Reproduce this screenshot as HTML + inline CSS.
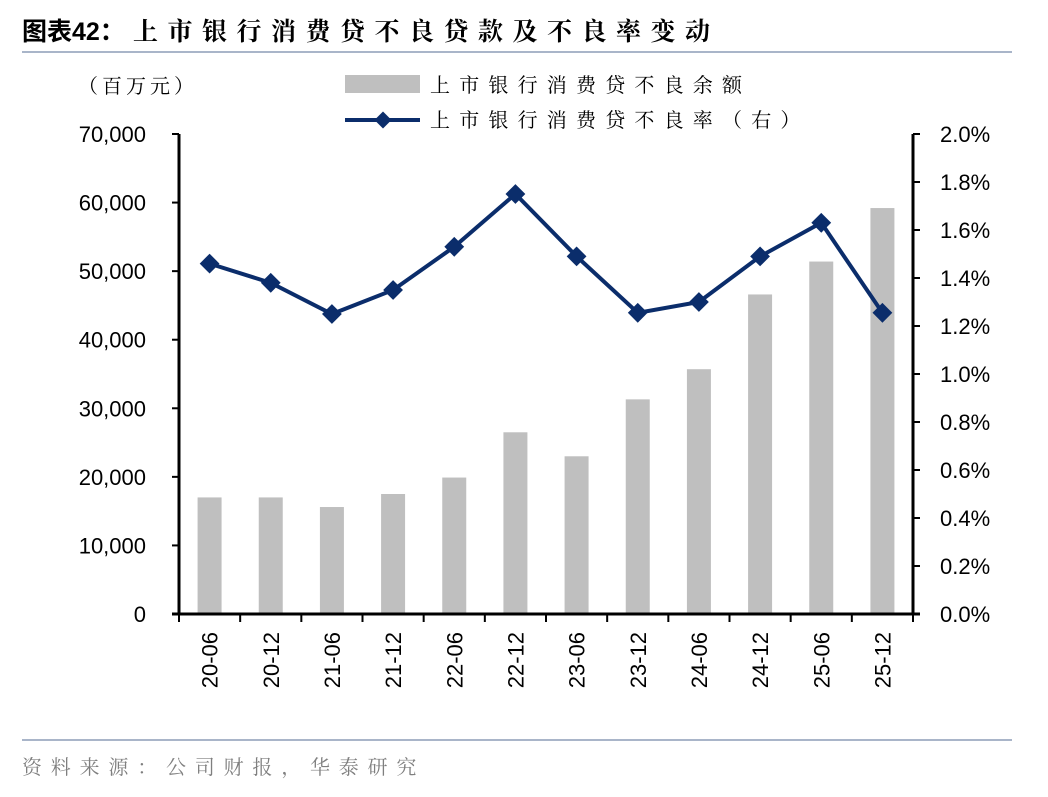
<!DOCTYPE html>
<html><head><meta charset="utf-8"><style>
body{margin:0;background:#fff;}
svg text{font-family:"Liberation Sans","Noto Sans CJK SC",sans-serif;}
svg text.cjk{font-family:"Liberation Serif","Noto Serif CJK SC",serif;}
</style></head><body>
<svg width="1048" height="792" xmlns="http://www.w3.org/2000/svg">
<text x="22" y="40" font-size="25" font-weight="bold" fill="#000"><tspan>图表42：</tspan><tspan x="133" letter-spacing="9.5" style="font-family:'Liberation Serif','Noto Serif CJK SC',serif">上市银行消费贷不良贷款及不良率变动</tspan></text>
<line x1="22" y1="52" x2="1012" y2="52" stroke="#a9b5c9" stroke-width="2"/>
<text class="cjk" x="78" y="93" font-size="20" letter-spacing="4" fill="#000">（百万元）</text>
<rect x="345" y="75" width="75" height="18" fill="#bfbfbf"/>
<text class="cjk" x="430" y="92" font-size="20" letter-spacing="9.2">上市银行消费贷不良余额</text>
<line x1="345" y1="120" x2="420" y2="120" stroke="#0b2d6b" stroke-width="4"/>
<rect x="377" y="114" width="12" height="12" fill="#0b2d6b" transform="rotate(45 383 120)"/>
<text class="cjk" x="430" y="127" font-size="20" letter-spacing="9.2">上市银行消费贷不良率（右）</text>
<g id="plot"></g>
<line x1="22" y1="740" x2="1012" y2="740" stroke="#a9b5c9" stroke-width="2"/>
<text class="cjk" x="22" y="774" font-size="20" letter-spacing="8.8" fill="#7f7f7f">资料来源：公司财报，华泰研究</text>
</svg>
<script>
const categories=["20-06","20-12","21-06","21-12","22-06","22-12","23-06","23-12","24-06","24-12","25-06","25-12"];
const balances=[17000,17000,15600,17500,19900,26500,23000,31300,35700,46600,51400,59200];
const rates=[1.46,1.38,1.25,1.35,1.53,1.75,1.49,1.255,1.30,1.49,1.63,1.255];
const leftTicks=["0","10,000","20,000","30,000","40,000","50,000","60,000","70,000"];
const rightTicks=["0.0%","0.2%","0.4%","0.6%","0.8%","1.0%","1.2%","1.4%","1.6%","1.8%","2.0%"];
const NS="http://www.w3.org/2000/svg",g=document.getElementById('plot');
const X0=179,X1=913,Y0=614,Ytop=134,step=(X1-X0)/categories.length;
const yL=v=>Y0-(v/70000)*(Y0-Ytop), yR=v=>Y0-(v/2.0)*(Y0-Ytop), xc=i=>X0+step*(i+0.5);
function mk(t,a){const e=document.createElementNS(NS,t);for(const k in a)e.setAttribute(k,a[k]);g.appendChild(e);return e;}
balances.forEach((v,i)=>{const e=mk('rect',{x:xc(i)-12,y:yL(v),width:24,height:Y0-yL(v),fill:'#bfbfbf'});

});
leftTicks.forEach((t,i)=>{const y=yL(i*10000);
const l=mk('line',{x1:X0-7,y1:y,x2:X0,y2:y,stroke:'#000','stroke-width':2});


const e=mk('text',{x:146,y:y+8,'font-size':22,'text-anchor':'end'});e.textContent=t;

});
rightTicks.forEach((t,i)=>{const y=yR(i*0.2);
const l=mk('line',{x1:X1,y1:y,x2:X1+7,y2:y,stroke:'#000','stroke-width':2});


const e=mk('text',{x:940,y:y+8,'font-size':22});e.textContent=t;

});
for(let i=0;i<=categories.length;i++){const x=X0+step*i;
const l=mk('line',{x1:x,y1:Y0,x2:x,y2:Y0+8,stroke:'#000','stroke-width':2});

}
categories.forEach((c,i)=>{const e=mk('text',{x:0,y:0,'font-size':22,'text-anchor':'end',transform:`translate(${xc(i)+8},632) rotate(-90)`});e.textContent=c;

});
const la=mk('line',{x1:X0,y1:Ytop,x2:X0,y2:Y0,stroke:'#000','stroke-width':3});


const ra=mk('line',{x1:X1,y1:Ytop,x2:X1,y2:Y0,stroke:'#000','stroke-width':3});


const xa=mk('line',{x1:X0-7,y1:Y0,x2:X1+7,y2:Y0,stroke:'#000','stroke-width':3});


const pl=mk('polyline',{points:rates.map((v,i)=>xc(i)+','+yR(v)).join(' '),fill:'none',stroke:'#0b2d6b','stroke-width':4});


rates.forEach((v,i)=>{const x=xc(i),y=yR(v);
const e=mk('rect',{x:x-7,y:y-7,width:14,height:14,fill:'#0b2d6b',transform:`rotate(45 ${x} ${y})`});

});
</script>
</body></html>
